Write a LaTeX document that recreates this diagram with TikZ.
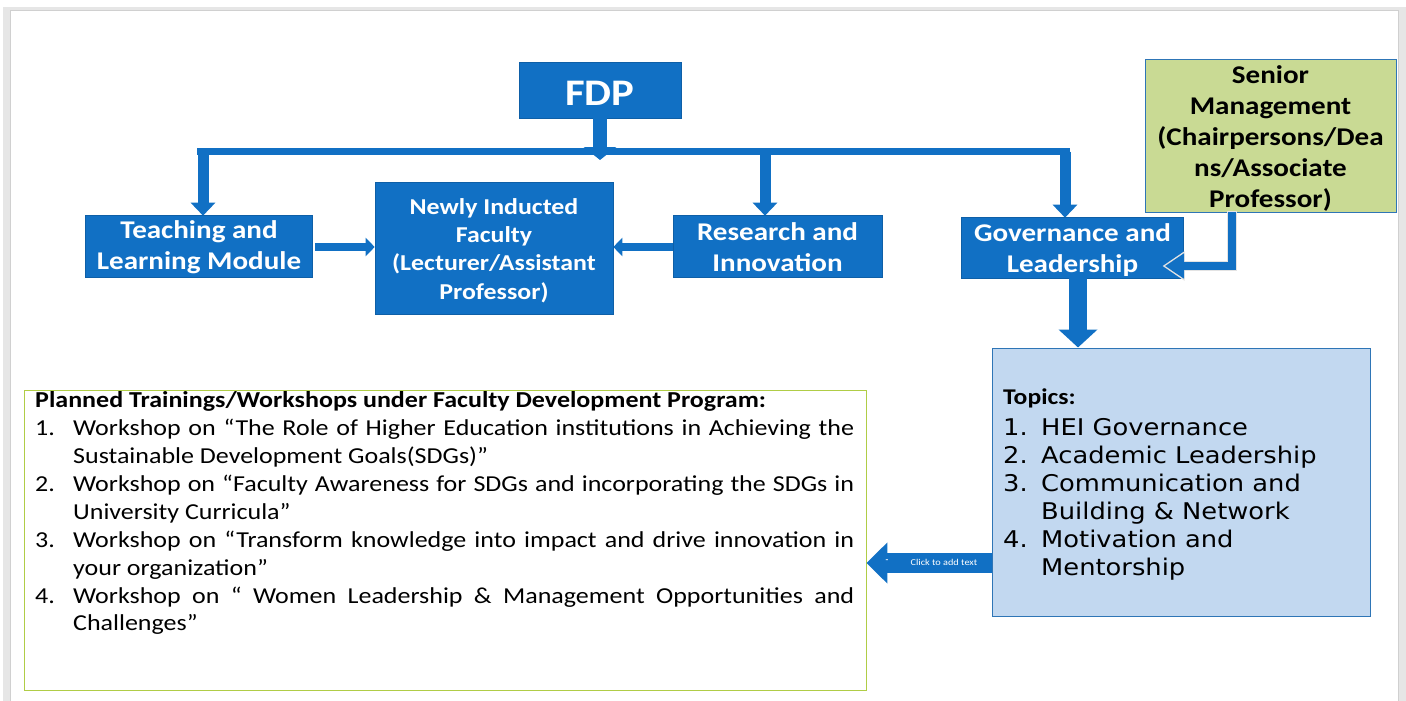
\documentclass[tikz,border=0pt]{standalone}
\usepackage{fontspec}
\setmainfont{Carlito}[FakeStretch=1.14]
\newfontfamily\verd{DejaVu Sans}[FakeStretch=1.12]
\usetikzlibrary{arrows.meta}
\definecolor{fdpblue}{RGB}{17,112,196}
\definecolor{sgreen}{RGB}{201,218,148}
\definecolor{tblue}{RGB}{194,216,240}
\definecolor{tborder}{RGB}{46,117,182}
\definecolor{pborder}{RGB}{176,205,70}
\definecolor{frameA}{RGB}{230,230,230}
\definecolor{frameB}{RGB}{208,208,208}
\newcommand{\dnshift}[1]{\rule{0pt}{\dimexpr\fontcharht\font`(+#1\relax}}
\begin{document}
\begin{tikzpicture}[x=1pt,y=-1pt,
  bluebox/.style={draw=fdpblue!85!black, line width=0.6pt, fill=fdpblue, text=white,
    font=\fontsize{25.5}{31}\selectfont\bfseries, align=center, inner sep=0pt},
  greenbox/.style={draw=tborder, line width=0.8pt, fill=sgreen, text=black,
    font=\fontsize{25.5}{31}\selectfont\bfseries, align=center, inner sep=0pt},
  topicbox/.style={draw=tborder, line width=1pt, fill=tblue, inner sep=0pt},
  planbox/.style={draw=pborder, line width=0.9pt, fill=white, inner sep=0pt},
  blockarrow/.style={draw=fdpblue, line width=#1},
  haloarrow/.style={draw=white!78!gray, line width=#1},
]
\useasboundingbox (0,0) rectangle (1406,701);
% page frame
\fill[frameA] (3,7) rectangle (11,701);
\fill[frameA] (3,7) rectangle (1406,10.5);
\fill[frameA] (1398,7) rectangle (1406,701);
\draw[frameB, line width=1pt] (10.5,701) -- (10.5,10.5) -- (1398.5,10.5) -- (1398.5,701);

% nodes
\node[bluebox, minimum width=162pt, minimum height=56pt, font=\fontsize{37.5}{40}\selectfont\bfseries] (fdp) at (600,90) {\dnshift{4pt}FDP};
\node[bluebox, minimum width=227pt, minimum height=62pt] (teach) at (199,246) {\dnshift{2pt}Teaching and\\Learning Module};
\node[bluebox, minimum width=238pt, minimum height=132pt, font=\fontsize{22.7}{28.3}\selectfont\bfseries] (newly) at (494,248) {\dnshift{4pt}Newly Inducted\\Faculty\\(Lecturer/Assistant\\Professor)};
\node[bluebox, minimum width=209pt, minimum height=62pt] (research) at (777.5,246) {\dnshift{2pt}Research and\\Innovation};
\node[bluebox, minimum width=222pt, minimum height=61pt] (gov) at (1072.5,247.5) {\dnshift{5pt}Governance and\\Leadership};
\node[greenbox, minimum width=251pt, minimum height=153pt] (senior) at (1270.5,135.5) {\dnshift{5pt}Senior\\Management\\(Chairpersons/Dea\\ns/Associate\\Professor)};
\node[topicbox, minimum width=378pt, minimum height=268pt] (topics) at (1181,482) {};
\node[planbox, minimum width=842pt, minimum height=300pt] (planned) at (445,540) {};

% topics text
\node[anchor=west, inner sep=0pt, font=\fontsize{22.5}{22.5}\selectfont\bfseries] (topicstitle) at (1003,398) {Topics:};
\node[anchor=north west, inner sep=0pt, font=\verd\fontsize{23}{28}\selectfont] (topiclist) at (1003,416)
 {\begin{tabular}{@{}l@{}l@{}}
  \makebox[38pt][l]{1.} & HEI Governance\\
  \makebox[38pt][l]{2.} & Academic Leadership\\
  \makebox[38pt][l]{3.} & Communication and\\
   & Building \& Network\\
  \makebox[38pt][l]{4.} & Motivation and\\
   & Mentorship
 \end{tabular}};

% planned text
\node[anchor=north west, inner sep=0pt, text width=819pt, align=justify,
  font=\fontsize{22.8}{27.9}\selectfont] (plantext) at (35,391.5)
 {{\bfseries Planned Trainings/Workshops under Faculty Development Program:}\par
  \hangindent=38pt\hangafter=1\noindent\makebox[38pt][l]{1.}Workshop on “The Role of Higher Education institutions in Achieving the\linebreak Sustainable Development Goals(SDGs)”\par
  \hangindent=38pt\hangafter=1\noindent\makebox[38pt][l]{2.}Workshop on “Faculty Awareness for SDGs and incorporating the SDGs in\linebreak University Curricula”\par
  \hangindent=38pt\hangafter=1\noindent\makebox[38pt][l]{3.}Workshop on “Transform knowledge into impact and drive innovation in\linebreak your organization”\par
  \hangindent=38pt\hangafter=1\noindent\makebox[38pt][l]{4.}Workshop on “ Women Leadership \& Management Opportunities and\linebreak Challenges”\par};

% connectors
\coordinate (fx) at (600,160);
\draw[blockarrow=14pt, -{Triangle[width=32pt,length=13pt]}] (fdp.south) -- (fx);
\coordinate (barL) at (197,151.5);
\coordinate (barR) at (1070,151.5);
\draw[blockarrow=7pt] (barL) -- (barR);
\coordinate (d1) at (203,151.5);
\coordinate (d2) at (765,151.5);
\coordinate (d3) at (1065,151.5);
\draw[blockarrow=11pt, -{Triangle[width=24pt,length=13pt]}] (d1) -- ([yshift=-1pt]d1 |- teach.north);
\draw[blockarrow=11pt, -{Triangle[width=24pt,length=13pt]}] (d2) -- ([yshift=-1pt]d2 |- research.north);
\draw[blockarrow=11pt, -{Triangle[width=24pt,length=13pt]}] (d3) -- ([yshift=-1pt]d3 |- gov.north);
\coordinate (ay) at (0,247);
\draw[blockarrow=8pt, -{Triangle[width=18pt,length=9pt]}] ([xshift=2pt]teach.east |- ay) -- (newly.west |- ay);
\draw[blockarrow=8pt, -{Triangle[width=18pt,length=9pt]}] (research.west |- ay) -- (newly.east |- ay);
% senior -> governance (bent arrow, head with light halo)
\coordinate (sx) at (1231.5,0);
\coordinate (stiphalo) at (1162.5,266);
\coordinate (stip) at (1165,266);
\draw[haloarrow=10pt, -{Triangle[width=28pt,length=22pt]}] ([yshift=1pt]senior.south -| sx) |- (stiphalo);
\draw[blockarrow=8pt, -{Triangle[width=24pt,length=19pt]}] (senior.south -| sx) |- (stip);
\coordinate (gx) at (1078,0);
\draw[blockarrow=18pt, -{Triangle[width=38pt,length=18pt]}] (gov.south -| gx) -- (topics.north -| gx);
\coordinate (cy) at (0,563);
\draw[blockarrow=20pt, -{Triangle[width=40pt,length=21pt]}] (topics.west |- cy) -- (planned.east |- cy);
\node[text=white, inner sep=0pt, font=\fontsize{9}{9}\selectfont] (clicktext) at (944,562) {Click to add text};
\node[text=white, inner sep=0pt, font=\fontsize{8}{8}\selectfont\bfseries] (clickdash) at (887,561) {-};
\end{tikzpicture}
\end{document}
